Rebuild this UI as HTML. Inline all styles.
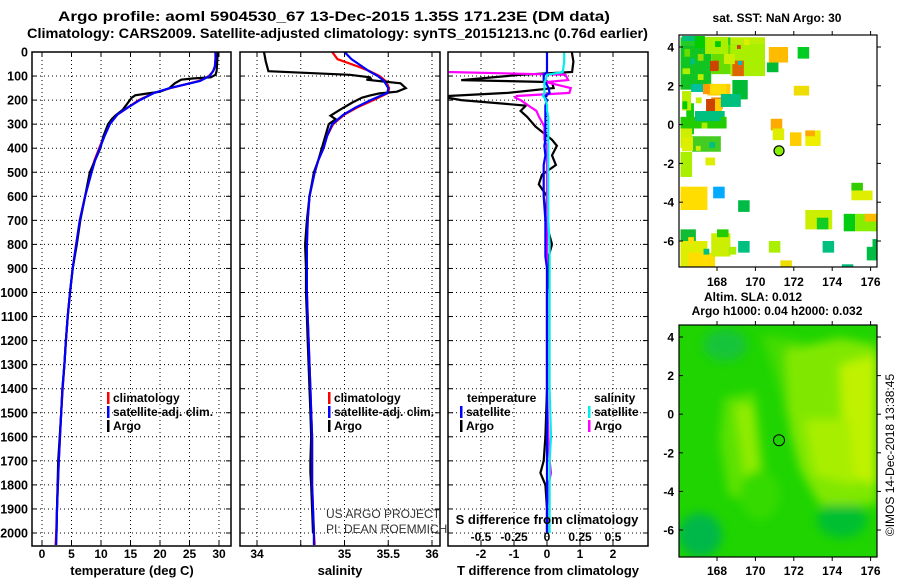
<!DOCTYPE html>
<html><head><meta charset="utf-8">
<style>
html,body{margin:0;padding:0;background:#fff;}
svg{display:block;font-family:"Liberation Sans",sans-serif;font-weight:bold;}
</style></head>
<body>
<svg id="chart" width="900" height="580" viewBox="0 0 900 580" xmlns="http://www.w3.org/2000/svg">
<text x="58" y="21" font-size="14" textLength="552" lengthAdjust="spacingAndGlyphs">Argo profile: aoml 5904530_67 13-Dec-2015 1.35S 171.23E (DM data)</text>
<text x="27" y="38" font-size="14" textLength="621" lengthAdjust="spacingAndGlyphs">Climatology: CARS2009. Satellite-adjusted climatology: synTS_20151213.nc (0.76d earlier)</text>
<g id="g"></g>
</svg>
<script>
// ---------- data ----------
const depthTicks=[0,100,200,300,400,500,600,700,800,900,1000,1100,1200,1300,1400,1500,1600,1700,1800,1900,2000];
const tempTicks=[0,5,10,15,20,25,30];
const salTicks=[34,34.5,35,35.5,36];
const salTickLabels=["34","","35","35.5","36"];
const salLabelVals=[34,34.5,35,35.5,36];
const tdTicks=[-2,-1,0,1,2];
const sdTickVals=[-0.5,-0.25,0,0.25,0.5];
const sdTickLabels=["-0.5","-0.25","0","0.25","0.5"];

const climDepth=[0,30,60,80,100,120,150,170,200,230,260,300,350,400,450,500,600,700,800,900,1000,1100,1200,1300,1400,1500,1600,1700,1800,1900,2000,2050];
const climTemp=[29.4,29.4,29.3,29.0,28.3,26.6,21.8,19.0,16.4,14.6,12.8,11.4,10.5,9.7,8.9,8.3,7.3,6.4,5.8,5.2,4.75,4.35,4.05,3.8,3.5,3.25,3.05,2.85,2.7,2.55,2.4,2.3];
const satTemp=[29.4,29.4,29.3,29.0,28.4,26.8,21.7,19.0,16.6,14.6,12.8,11.5,10.6,9.8,9.0,8.4,7.3,6.4,5.8,5.2,4.75,4.35,4.05,3.8,3.45,3.25,3.05,2.85,2.7,2.55,2.45,2.4];
const climSal=[34.86,34.92,35.15,35.29,35.40,35.47,35.51,35.5,35.33,35.15,35.0,34.87,34.8,34.76,34.7,34.66,34.6,34.58,34.57,34.57,34.57,34.58,34.59,34.6,34.61,34.62,34.63,34.63,34.63,34.64,34.65,34.66];
const satSal=[35.0,35.08,35.2,35.28,35.38,35.45,35.5,35.49,35.3,35.13,34.99,34.86,34.8,34.76,34.7,34.66,34.6,34.58,34.57,34.57,34.57,34.58,34.59,34.6,34.61,34.62,34.63,34.63,34.63,34.64,34.65,34.65];

const argoDepth=[0,40,80,95,105,110,115,130,150,165,172,180,190,210,240,265,280,300,350,400,450,500,600,700,800,900,1000,1100,1200,1300,1400,1500,1600,1700,1750,1800,1900,2000];
const argoTemp=[29.8,29.7,29.6,29.4,28.6,25.5,23.6,22.5,21.6,20.0,18.0,15.8,15.2,14.6,13.7,12.4,11.8,11.2,10.4,9.9,9.0,8.1,7.3,6.5,5.9,5.2,4.75,4.35,4.05,3.8,3.45,3.25,3.0,2.75,2.7,2.65,2.55,2.45];
const argoSal=[34.08,34.1,34.13,35.06,35.29,35.3,35.25,35.64,35.7,35.6,35.4,35.3,35.2,35.09,34.95,34.84,34.9,34.82,34.78,34.74,34.7,34.65,34.6,34.57,34.55,34.56,34.56,34.57,34.58,34.59,34.6,34.61,34.62,34.61,34.61,34.62,34.63,34.64];

const diffDepth=[0,40,83,95,117,125,150,170,183,190,200,223,245,270,310,365,390,430,470,510,550,600,700,800,850,900,1000,1200,1400,1600,1700,1750,1800,1900,2000];
const argoTdiff=[0.75,0.8,0.76,-0.8,-2.6,0.15,0.2,-1.2,-3,-3,-2.6,-0.64,-0.8,-0.6,-0.35,0.15,0.3,0.15,0.27,-0.15,-0.25,0,-0.05,0.15,0.05,0.05,0,0,0,-0.05,-0.1,-0.2,-0.05,0,0];
const satTdiff=[0,0,0,-0.1,-0.1,-0.05,0.05,0.08,-0.05,-0.05,0,-0.05,-0.05,-0.05,-0.05,-0.05,-0.08,-0.05,-0.1,-0.1,-0.1,-0.1,-0.05,-0.05,-0.05,0,0,0,0,0,0,0,0,0,0];
const argoSdiff=[-0.8,-0.8,-0.75,0.14,0.16,-0.01,0.18,0.17,-0.23,-0.24,-0.2,-0.14,-0.08,-0.06,-0.02,-0.02,0,0,0,0,0,0,0,0,0,0,0,0,0,0.01,0.02,0.03,0.01,0,0];
const satSdiff=[0.13,0.13,0.12,0.0,-0.01,-0.02,-0.02,-0.02,-0.03,-0.02,-0.01,0,0,0.01,0.01,0.01,0.01,0.01,0.01,0.01,0.01,0.01,0.01,0.02,0.02,0.02,0.02,0.02,0.02,0.03,0.02,0.02,0.02,0.02,0.02];

const latTicks=[4,2,0,-2,-4,-6];
const lonTicks=[168,170,172,174,176];
// SST cells: lon0, lat0 (top-left), width deg, height deg (negative), colour
const sstCells=[
[166.1,4.5,2.6,-0.4,"#22cc22"],[168.7,4.5,1.8,-0.3,"#bbee00"],[166.1,4.1,1.6,-2.3,"#11c422"],[167.7,4.1,1.0,-1.5,"#66dd00"],
[168.7,4.2,1.8,-1.7,"#aaee00"],[167.8,3.3,0.3,-0.5,"#cc5500"],[168.8,3.3,0.6,-0.8,"#dd6600"],[167.5,2.1,1.2,-0.6,"#ffcc00"],
[167.7,1.4,0.6,-0.6,"#ee8800"],[168.8,2.3,0.8,-1.0,"#00bb33"],[166.4,1.1,0.4,-1.6,"#11cc11"],[167.0,0.7,1.4,-0.6,"#00c080"],
[166.1,0.4,2.4,-0.6,"#22cc00"],[166.1,-0.2,0.6,-1.0,"#ccee00"],[166.7,-0.6,1.5,-0.8,"#44cc22"],[166.1,-1.4,0.6,-1.3,"#aaee00"],
[167.4,-1.7,0.5,-0.4,"#ddee00"],[166.1,-3.2,1.4,-1.2,"#ffdd00"],[167.8,-3.2,0.6,-0.6,"#00aaff"],[169.1,-3.9,0.6,-0.6,"#00bb44"],
[170.7,4.0,1.0,-0.8,"#ffbb00"],[170.6,3.2,0.6,-0.5,"#00bb33"],[172.2,4.0,0.6,-0.6,"#00cc22"],[172.0,2.0,0.8,-0.5,"#eedd00"],
[170.8,0.3,0.6,-0.6,"#ffaa00"],[170.9,-0.2,0.6,-0.6,"#ddee00"],[171.8,-0.4,0.6,-0.7,"#ffcc00"],[172.6,-0.3,0.8,-0.8,"#eeee00"],
[172.6,-0.3,0.5,-0.3,"#ffaa00"],[175.0,-3.0,0.6,-0.4,"#33cc00"],[175.0,-3.4,1.1,-0.5,"#ddee00"],[172.6,-4.4,1.4,-1.0,"#ccee00"],
[173.2,-4.8,0.6,-0.6,"#11cc22"],[174.6,-4.6,0.6,-0.9,"#00cc11"],[175.2,-4.6,1.2,-0.9,"#88ee00"],[175.7,-4.6,0.6,-0.4,"#ffbb00"],
[166.1,-5.4,0.8,-0.6,"#11bb33"],[166.1,-6.0,1.4,-1.4,"#ddee00"],[166.5,-6.6,1.4,-0.8,"#ffdd00"],[167.7,-5.6,1.0,-1.2,"#ccee00"],
[168.0,-5.4,0.6,-0.4,"#22cc00"],[169.1,-6.0,0.6,-0.6,"#00c080"],[170.7,-6.0,0.6,-0.6,"#aaee00"],[173.5,-6.0,0.6,-0.6,"#00c080"],
[175.8,-6.3,0.6,-0.7,"#00bb44"],[176.1,-5.9,0.3,-0.5,"#00bb44"],[171.3,-7.0,0.6,-0.6,"#eedd00"],[174.5,-7.2,0.6,-0.4,"#00bb77"],
[175.3,-7.4,1.1,-0.3,"#11cc33"],
[166.18,4.57,0.68,-0.26,"#00c080"],[166.85,4.57,0.52,-0.62,"#00cc00"],[167.38,4.52,1.2,-0.88,"#aaee00"],[169.04,4.1,0.2,-0.2,"#cc4400"],
[167.64,3.28,0.42,-0.52,"#cc4400"],[167.27,2.09,0.36,-0.52,"#ff9900"],[167.64,2.09,0.83,-0.52,"#ffdd00"],[166.65,2.09,0.62,-0.41,"#00c0a0"],
[167.43,1.32,0.47,-0.62,"#cc4400"],[167.9,1.32,0.36,-0.62,"#ffcc00"],[168.2,1.58,1.04,-0.67,"#00c080"],[166.18,1.73,0.47,-1.0,"#bbee00"],
[166.85,0.7,1.35,-0.52,"#00c080"],[166.18,-0.64,0.57,-0.72,"#ddee00"],[167.0,3.64,0.3,-0.35,"#99dd00"],[168.36,3.64,0.57,-0.52,"#ccee00"],
[169.1,3.28,0.2,-0.2,"#00bbcc"],[166.3,3.9,0.3,-0.4,"#66dd00"],[166.6,3.4,0.25,-0.3,"#00c080"],[166.2,2.9,0.4,-0.3,"#aaee00"],
[167.0,2.6,0.3,-0.3,"#bbee00"],[166.9,1.4,0.3,-0.3,"#ccee00"],[166.2,1.2,0.25,-0.4,"#00cc00"],[167.2,0.1,0.3,-0.3,"#aaee00"],
[167.6,-0.9,0.3,-0.3,"#00c080"],[166.9,-1.1,0.25,-0.25,"#ccee00"],[167.9,4.3,0.3,-0.3,"#00cc00"],[169.4,4.4,0.3,-0.3,"#ddee00"],
[166.5,-5.8,0.3,-0.3,"#ffdd00"],[167.3,-6.4,0.3,-0.3,"#00c080"],[168.6,-6.3,0.4,-0.4,"#aaee00"]
];
const argoLon=[171.23], argoLat=[-1.35];

// ---------- helpers ----------
const NS="http://www.w3.org/2000/svg";
const G=document.getElementById('g');
function mk(tag,attrs,parent){const e=document.createElementNS(NS,tag);for(const k in attrs)e.setAttribute(k,attrs[k]);(parent||G).appendChild(e);return e;}
const yTop=52,yBot=546;
const yD=d=>yTop+d*0.2405;
const panels=[
 {x0:32,x1:231,fx:v=>42+v*5.9,ticks:tempTicks,grid:tempTicks,title:"temperature (deg C)",tx:132},
 {x0:240,x1:440,fx:v=>257+(v-34)*87.5,ticks:salLabelVals,grid:salTicks,title:"salinity",tx:340},
 {x0:448,x1:648,fx:v=>547+v*33,ticks:tdTicks,grid:tdTicks,title:"T difference from climatology",tx:548}
];
const sdx=v=>547+v*132;

function line(xs,ys,fx,col,parent,name){
  let d="";for(let i=0;i<xs.length;i++){d+=(i?"L":"M")+fx(xs[i]).toFixed(1)+","+yD(ys[i]).toFixed(1);}
  const p=mk('path',{d:d,fill:"none",stroke:col,"stroke-width":2.2,"stroke-linejoin":"miter"},parent);
  
  
  return p;
}

panels.forEach((P,pi)=>{
  const grp=mk('g',{});
  
  
  const cp=mk('clipPath',{id:'cp'+pi},grp);
  mk('rect',{x:P.x0,y:yTop,width:P.x1-P.x0,height:yBot-yTop},cp);
  depthTicks.forEach(d=>{const l=mk('line',{x1:P.x0,x2:P.x1,y1:yD(d),y2:yD(d),stroke:"#000","stroke-width":1,"stroke-dasharray":"1,3"},grp);
    
    mk('line',{x1:P.x0,x2:P.x0+5,y1:yD(d),y2:yD(d),stroke:"#000"},grp);mk('line',{x1:P.x1-5,x2:P.x1,y1:yD(d),y2:yD(d),stroke:"#000"},grp);});
  P.grid.forEach(v=>{const l=mk('line',{x1:P.fx(v),x2:P.fx(v),y1:yTop,y2:yBot,stroke:"#000","stroke-width":1,"stroke-dasharray":"1,3"},grp);
    
    mk('line',{x1:P.fx(v),x2:P.fx(v),y1:yBot-5,y2:yBot,stroke:"#000"},grp);mk('line',{x1:P.fx(v),x2:P.fx(v),y1:yTop,y2:yTop+5,stroke:"#000"},grp);});
  P.ticks.forEach((v,i)=>{let lab=pi==1?salTickLabels[i]:String(v);if(!lab)return;
    const t=mk('text',{x:P.fx(v),y:558,"font-size":12,"text-anchor":"middle"},grp);t.textContent=lab;
    });
  const tt=mk('text',{x:P.tx,y:575,"font-size":13,"text-anchor":"middle"},grp);tt.textContent=P.title;
  
  const lg=mk('g',{"clip-path":"url(#cp"+pi+")"},grp);
  if(pi==0){line(climTemp,climDepth,P.fx,"#f00",lg,'climatology-temp-line');line(argoTemp,argoDepth,P.fx,"#000",lg,'argo-temp-line');line(satTemp,climDepth,P.fx,"#00f",lg,'satellite-temp-line');}
  if(pi==1){line(climSal,climDepth,P.fx,"#f00",lg,'climatology-sal-line');line(argoSal,argoDepth,P.fx,"#000",lg,'argo-sal-line');line(satSal,climDepth,P.fx,"#00f",lg,'satellite-sal-line');}
  if(pi==2){line(argoTdiff,diffDepth,P.fx,"#000",lg,'argo-tdiff-line');line(argoSdiff,diffDepth,sdx,"#f0f",lg,'argo-sdiff-line');line(satTdiff,diffDepth,P.fx,"#00f",lg,'satellite-tdiff-line');line(satSdiff,diffDepth,sdx,"#0ee",lg,'satellite-sdiff-line');}
  const b=mk('rect',{x:P.x0,y:yTop,width:P.x1-P.x0,height:yBot-yTop,fill:"none",stroke:"#000","stroke-width":1.5},grp);
  
});
depthTicks.forEach(d=>{const t=mk('text',{x:28,y:yD(d)+4.5,"font-size":12.5,"text-anchor":"end"});t.textContent=String(d);
  });
sdTickVals.forEach((v,i)=>{const t=mk('text',{x:sdx(v),y:541,"font-size":12,"text-anchor":"middle"});t.textContent=sdTickLabels[i];
  });
{const t=mk('text',{x:547,y:524,"font-size":13,"text-anchor":"middle"});t.textContent="S difference from climatology";}
function leg(x,y,col,txt,name){mk('rect',{x:x,y:y-10,width:2.5,height:12,fill:col});const t=mk('text',{x:x+6,y:y,"font-size":12});t.textContent=txt;
  }
leg(107,402,"#f00","climatology","legend-climatology");leg(107,416,"#00f","satellite-adj. clim.","legend-satellite");leg(107,430,"#000","Argo","legend-argo");
leg(328,402,"#f00","climatology","legend-climatology-sal");leg(328,416,"#00f","satellite-adj. clim.","legend-satellite-sal");leg(328,430,"#000","Argo","legend-argo-sal");
{const t=mk('text',{x:467,y:402,"font-size":12});t.textContent="temperature";}
{const t=mk('text',{x:594,y:402,"font-size":12});t.textContent="salinity";}
leg(460,416,"#00f","satellite","legend-t-satellite");leg(460,430,"#000","Argo","legend-t-argo");
leg(588,416,"#0ee","satellite","legend-s-satellite");leg(588,430,"#f0f","Argo","legend-s-argo");
{const t=mk('text',{x:326,y:518,"font-size":12,"font-weight":"normal",fill:"#333"});t.textContent="US ARGO PROJECT";
 const t2=mk('text',{x:326,y:533,"font-size":12,"font-weight":"normal",fill:"#333"});t2.textContent="PI: DEAN ROEMMICH";}

// ---------- maps ----------
const mx0=679,mx1=877;
const mX=lon=>717+(lon-168)*19.2;
function mapFrame(name){
  const grp=mk('g',{});
  return grp;
}
function axes(grp,y0,y1,latY,lonLabY){
  mk('rect',{x:mx0,y:y0,width:mx1-mx0,height:y1-y0,fill:"none",stroke:"#000","stroke-width":1.2},grp);
  latTicks.forEach(v=>{mk('line',{x1:mx0,x2:mx0+4,y1:latY(v),y2:latY(v),stroke:"#000"},grp);mk('line',{x1:mx1,x2:mx1+4,y1:latY(v),y2:latY(v),stroke:"#000"},grp);
    const t=mk('text',{x:674,y:latY(v)+4.5,"font-size":12,"text-anchor":"end"},grp);t.textContent=String(v);});
  lonTicks.forEach(v=>{mk('line',{x1:mX(v),x2:mX(v),y1:y1,y2:y1+4,stroke:"#000"},grp);mk('line',{x1:mX(v),x2:mX(v),y1:y0-4,y2:y0,stroke:"#000"},grp);
    const t=mk('text',{x:mX(v),y:lonLabY,"font-size":12,"text-anchor":"middle"},grp);t.textContent=String(v);});
}
{
 const y0=35,y1=267,latY=lat=>47+(4-lat)*19.4;
 const grp=mapFrame('sst-map');
 const cp=mk('clipPath',{id:'mcp1'},grp);mk('rect',{x:mx0,y:y0,width:mx1-mx0,height:y1-y0},cp);
 const cg=mk('g',{"clip-path":"url(#mcp1)"},grp);
 sstCells.forEach(c=>{const r=mk('rect',{x:mX(c[0]),y:latY(c[1]),width:c[2]*19.2,height:-c[3]*19.4,fill:c[4]},cg);
   });
 const ci=mk('circle',{cx:mX(argoLon[0]),cy:latY(argoLat[0]),r:5,fill:"#88ee00",stroke:"#000","stroke-width":1.2},grp);
 
 axes(grp,y0,y1,latY,286);
 const t=mk('text',{x:777,y:22,"font-size":12,"text-anchor":"middle"},grp);t.textContent="sat. SST: NaN Argo: 30";
}
{
 const y0=325,y1=557,latY=lat=>337+(4-lat)*19.3;
 const grp=mapFrame('altimetry-map');
 const cp=mk('clipPath',{id:'mcp2'},grp);mk('rect',{x:mx0,y:y0,width:mx1-mx0,height:y1-y0},cp);
 const f=mk('filter',{id:'blur',x:"-20%",y:"-20%",width:"140%",height:"140%"},grp);mk('feGaussianBlur',{stdDeviation:5},f);
 const cg=mk('g',{"clip-path":"url(#mcp2)"},grp);
 mk('rect',{x:mx0,y:y0,width:mx1-mx0,height:y1-y0,fill:"#1fd400"},cg);
 const bl=mk('g',{filter:"url(#blur)"},cg);
 mk('ellipse',{cx:700,cy:535,rx:22,ry:22,fill:"#00b84a"},bl);
 mk('ellipse',{cx:725,cy:345,rx:22,ry:16,fill:"#14c43a"},bl);
 mk('ellipse',{cx:842,cy:520,rx:25,ry:18,fill:"#00c030"},bl);
 mk('path',{d:"M762,335 L800,340 L800,390 L786,420 L780,390 L770,360 Z",fill:"#44dc00"},bl);
 mk('path',{d:"M785,350 L840,338 L877,345 L877,505 L820,505 L800,470 L790,430 Z",fill:"#80e800"},bl);
 mk('path',{d:"M840,365 L877,355 L877,485 L845,475 Z",fill:"#c0f200"},bl);
 mk('path',{d:"M805,420 L850,420 L855,485 L815,475 Z",fill:"#a8ee00"},bl);
 mk('path',{d:"M724,398 L755,392 L766,480 L758,505 L728,495 L720,440 Z",fill:"#5ce200"},bl);
 mk('path',{d:"M735,405 L752,405 L758,470 L745,478 Z",fill:"#92ec00"},bl);
 mk('ellipse',{cx:760,cy:495,rx:20,ry:25,fill:"#34da00"},bl);
 const ci=mk('circle',{cx:mX(argoLon[0]),cy:latY(argoLat[0]),r:5.5,fill:"none",stroke:"#000","stroke-width":1},grp);
 
 axes(grp,y0,y1,latY,575);
 const t=mk('text',{x:753,y:301,"font-size":12,"text-anchor":"middle"},grp);t.textContent="Altim. SLA: 0.012";
 const t2=mk('text',{x:777,y:315,"font-size":12,"text-anchor":"middle"},grp);t2.textContent="Argo h1000: 0.04 h2000: 0.032";
}
{const t=mk('text',{x:0,y:0,"font-size":12,"font-weight":"normal","text-anchor":"middle",transform:"translate(894,455) rotate(-90)"});t.textContent="©IMOS 14-Dec-2018 13:38:45";
 }
</script>
</body></html>
